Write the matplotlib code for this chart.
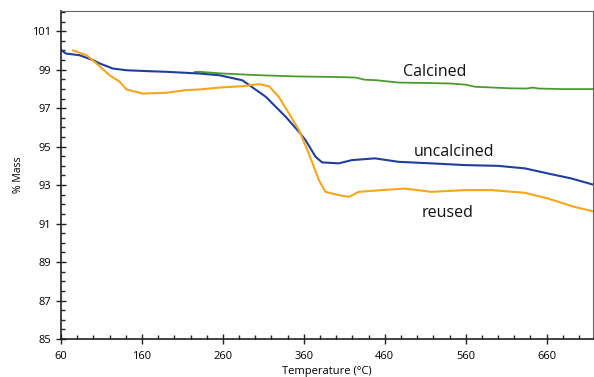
import matplotlib
matplotlib.use("Agg")
import matplotlib.pyplot as plt
from matplotlib.ticker import MultipleLocator

plt.rcParams['font.family'] = ['Open Sans', 'DejaVu Sans']

# Calcined (green)
cal_x = [225, 231, 260, 300, 350, 400, 424, 435, 450, 477, 510, 542, 560, 572, 600, 616, 635, 643, 650, 680, 717]
cal_y = [98.88, 98.89, 98.80, 98.72, 98.65, 98.62, 98.59, 98.48, 98.45, 98.33, 98.31, 98.28, 98.22, 98.11, 98.06, 98.03, 98.02, 98.07, 98.02, 97.99, 97.99]

# uncalcined (blue)
unc_x = [60.5, 66, 83, 100, 108, 124, 141, 169.5, 190, 231, 255.6, 284, 313, 337.6, 354, 362, 374.5, 382.6, 403, 419.6, 448, 477, 517.6, 559, 600, 633, 661, 690, 717]
unc_y = [100.01, 99.84, 99.75, 99.49, 99.32, 99.06, 98.97, 98.92, 98.89, 98.80, 98.71, 98.45, 97.59, 96.55, 95.77, 95.34, 94.47, 94.18, 94.13, 94.30, 94.39, 94.21, 94.13, 94.04, 94.00, 93.87, 93.61, 93.35, 93.03]

# reused (orange)
reu_x = [75, 91.6, 104, 120, 132.6, 141, 161, 190, 214.6, 231, 255.6, 284, 305, 317, 329, 341.7, 354, 366, 378.6, 386.8, 403, 415.5, 428, 456, 485, 517.6, 559, 592, 633, 661, 694, 717]
reu_y = [100.0, 99.75, 99.32, 98.71, 98.37, 97.97, 97.76, 97.80, 97.94, 97.97, 98.07, 98.14, 98.25, 98.14, 97.59, 96.72, 95.86, 94.65, 93.26, 92.65, 92.48, 92.39, 92.65, 92.74, 92.82, 92.65, 92.74, 92.74, 92.60, 92.31, 91.87, 91.64]

labels = ["Calcined", "uncalcined", "reused"]
label_pos = [(522, 98.9), (545, 94.73), (538, 91.55)]

x_ticks = [60, 160, 260, 360, 460, 560, 660]
y_ticks = [85, 87, 89, 91, 93, 95, 97, 99, 101]

fig = plt.figure(figsize=(5.94, 3.77), dpi=100)
ax = fig.add_axes([0.1027, 0.1008, 0.8953, 0.870])

ax.plot(cal_x, cal_y, color="#4b9a2e", lw=1.3)
ax.plot(unc_x, unc_y, color="#1f3f9e", lw=1.5)
ax.plot(reu_x, reu_y, color="#f4a61c", lw=1.5)

for t, (x, y) in zip(labels, label_pos):
    ax.text(x, y, t, ha="center", va="center", fontsize=11.5, color="#111111")

ax.set_xlim(60, 717)
ax.set_ylim(85, 102.05)
ax.set_xticks(x_ticks)
ax.set_yticks(y_ticks)
ax.xaxis.set_minor_locator(MultipleLocator(20))
ax.yaxis.set_minor_locator(MultipleLocator(0.5))
ax.tick_params(which="major", direction="inout", length=7, width=1.0, labelsize=8, color="#222222")
ax.tick_params(which="minor", direction="in", length=3, width=1.0, color="#222222")
ax.tick_params(axis="x", pad=5)

for s in ["left", "bottom"]:
    ax.spines[s].set_color("#222222")
    ax.spines[s].set_linewidth(1.2)
for s in ["top", "right"]:
    ax.spines[s].set_color("#666666")
    ax.spines[s].set_linewidth(0.8)

ax.set_xlabel("Temperature (°C)", fontsize=8, labelpad=3)
ax.set_ylabel("% Mass", fontsize=7.5, labelpad=6)

fig.savefig("out.png", dpi=100)
